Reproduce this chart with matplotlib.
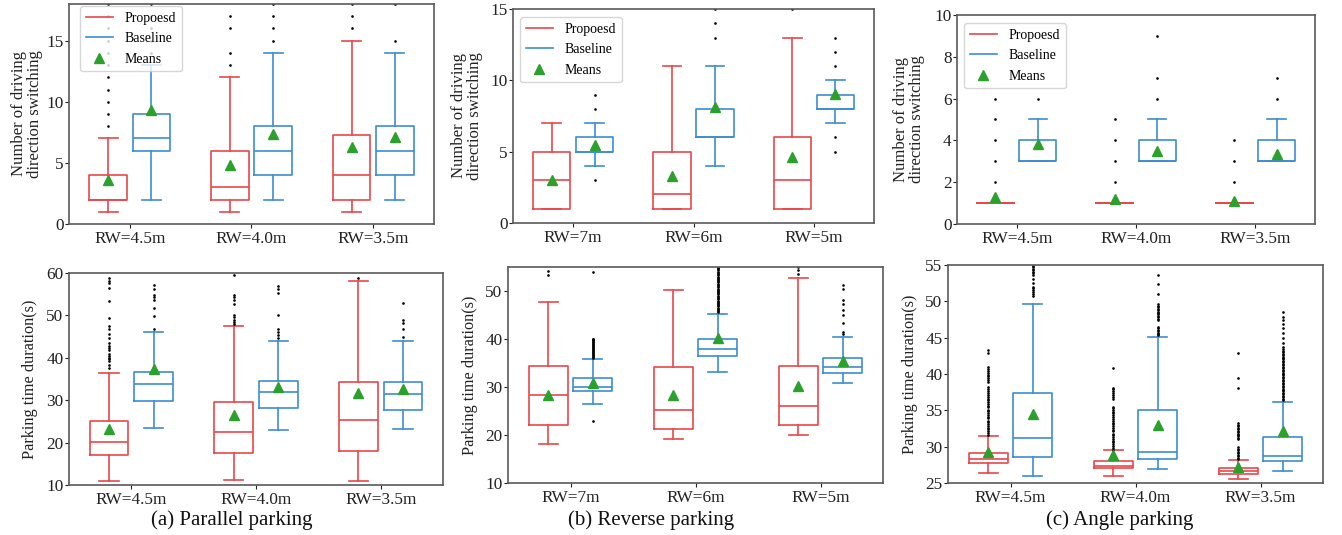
import matplotlib
matplotlib.use("Agg")
import matplotlib.pyplot as plt
from matplotlib.lines import Line2D

plt.rcParams['font.family'] = ['Liberation Serif', 'DejaVu Serif']
plt.rcParams['mathtext.fontset'] = 'stix'

# ---------------- data (five-number summaries: [whislo, q1, med, q3, whishi]) ----------------
cats_parallel = ["RW=4.5m", "RW=4.0m", "RW=3.5m"]
cats_reverse = ["RW=7m", "RW=6m", "RW=5m"]
cats_angle = ["RW=4.5m", "RW=4.0m", "RW=3.5m"]

# (a) parallel parking - direction switching
par_sw_prop = [[1, 2, 2, 4, 7], [1, 2, 3, 6, 12], [1, 2, 4, 7.25, 15]]
par_sw_prop_mean = [3.6, 4.8, 6.3]
par_sw_prop_fliers = [[8, 9, 10, 11, 12, 13, 14, 15, 16, 17, 18], [13, 14, 16, 17], [16, 17, 18]]
par_sw_base = [[2, 6, 7, 9, 13], [2, 4, 6, 8, 14], [2, 4, 6, 8, 14]]
par_sw_base_mean = [9.3, 7.4, 7.1]
par_sw_base_fliers = [[14, 15, 16, 17, 18], [15, 16, 17, 18], [15, 18]]

# (b) reverse parking - direction switching
rev_sw_prop = [[1, 1, 3, 5, 7], [1, 1, 2, 5, 11], [1, 1, 3, 6, 13]]
rev_sw_prop_mean = [3.0, 3.3, 4.6]
rev_sw_prop_fliers = [[], [], [15]]
rev_sw_base = [[4, 5, 5, 6, 7], [4, 6, 6, 8, 11], [7, 8, 8, 9, 10]]
rev_sw_base_mean = [5.45, 8.1, 9.05]
rev_sw_base_fliers = [[3, 8, 9], [13, 14, 15], [5, 6, 11, 12, 13]]

# (c) angle parking - direction switching
ang_sw_prop = [[1, 1, 1, 1, 1], [1, 1, 1, 1, 1], [1, 1, 1, 1, 1]]
ang_sw_prop_mean = [1.27, 1.19, 1.1]
ang_sw_prop_fliers = [[2, 3, 4, 5, 6], [2, 3, 4, 5], [2, 3, 4]]
ang_sw_base = [[3, 3, 3, 4, 5], [3, 3, 3, 4, 5], [3, 3, 3, 4, 5]]
ang_sw_base_mean = [3.82, 3.51, 3.35]
ang_sw_base_fliers = [[6], [6, 7, 9], [6, 7]]

# (a) parallel parking - time
par_t_prop = [[11.0, 17.1, 20.2, 25.1, 36.3], [11.2, 17.6, 22.5, 29.5, 47.5], [11.0, 18.0, 25.3, 34.3, 58.1]]
par_t_prop_mean = [23.3, 26.5, 31.6]
par_t_prop_fliers = [
    [37.6, 38.4, 39.2, 39.6, 40.0, 40.4, 41.0, 41.9, 42.3, 42.7, 43.5, 44.7, 45.5,
     46.9, 47.4, 49.4, 53.3, 56.5, 57.6, 58.2, 58.8],
    [47.9, 48.4, 49.0, 49.6, 50.2, 52.7, 53.7, 54.3, 54.9, 59.6],
    [58.9]]
par_t_base = [[23.4, 29.9, 33.9, 36.6, 46.2], [23.0, 28.2, 31.9, 34.6, 44.0], [23.2, 27.6, 31.5, 34.3, 43.9]]
par_t_base_mean = [37.3, 33.2, 32.7]
par_t_base_fliers = [
    [46.9, 49.8, 51.7, 53.7, 54.3, 54.9, 56.3, 57.2],
    [44.6, 45.3, 46.0, 46.8, 50.2, 55.3, 56.2, 57.0],
    [45.0, 46.8, 48.2, 49.0, 53.0]]

# (b) reverse parking - time
rev_t_prop = [[18.2, 22.1, 28.3, 34.3, 47.7], [19.2, 21.3, 25.3, 34.1, 50.3], [20.1, 22.0, 26.1, 34.3, 52.8]]
rev_t_prop_mean = [28.4, 28.4, 30.2]
rev_t_prop_fliers = [[53.3, 54.1], [], [53.6, 54.3, 55.0]]
rev_t_base = [[26.4, 29.1, 30.1, 31.9, 35.9], [33.2, 36.4, 37.9, 39.9, 45.2], [30.8, 32.9, 34.1, 36.0, 40.5]]
rev_t_base_mean = [30.8, 40.3, 35.5]
rev_t_base_fliers = [
    [22.9, 36.1, 36.3, 36.5, 36.7, 36.9, 37.1, 37.3, 37.5, 37.7, 37.9, 38.1, 38.3, 38.5,
     38.7, 38.9, 39.1, 39.3, 39.5, 39.7, 39.9, 40.1, 54.0],
    [45.6, 45.8, 46.0, 46.3, 46.5, 46.8, 47.0, 47.3, 47.5, 47.8, 48.0, 48.3, 48.5, 48.8,
     49.0, 49.3, 49.5, 49.8, 50.0, 50.3, 50.5, 50.8, 51.0, 51.3, 51.5, 51.8, 52.0, 52.3,
     52.5, 52.8, 53.0, 53.3, 53.5, 53.8, 54.0, 54.3, 54.5, 54.8, 55.0],
    [41.05, 41.5, 43.3, 44.9, 46.1, 47.25, 48.1, 50.4, 51.2]]

# (c) angle parking - time
ang_t_prop = [[26.4, 27.7, 28.3, 29.1, 31.4], [25.9, 27.0, 27.4, 28.0, 29.5], [25.6, 26.3, 26.7, 27.1, 28.1]]
ang_t_prop_mean = [29.25, 28.9, 27.2]
ang_t_prop_fliers = [
    [31.6, 31.9, 32.1, 32.4, 32.6, 32.9, 33.1, 33.4, 33.6, 33.9, 34.1, 34.4, 34.6, 34.9,
     35.1, 35.4, 35.6, 35.9, 36.1, 36.4, 36.6, 36.9, 37.1, 37.4, 37.6, 37.9, 38.2, 38.9,
     39.2, 39.4, 39.7, 39.9, 40.2, 40.4, 40.7, 41.0, 42.9, 43.3],
    [29.6, 29.8, 30.1, 30.3, 30.6, 30.8, 31.1, 31.3, 31.6, 31.8, 32.1, 32.3, 32.6, 32.8,
     33.1, 33.3, 33.6, 33.8, 34.1, 34.3, 34.6, 34.8, 35.1, 35.3, 35.5, 36.6, 36.9, 37.1,
     37.4, 37.6, 37.9, 38.1, 40.8],
    [28.3, 28.5, 28.7, 28.9, 29.1, 29.3, 29.5, 29.7, 30.0, 31.0, 31.2, 31.4, 31.6, 31.8,
     32.0, 32.2, 32.4, 32.6, 32.8, 33.0, 33.3, 38.1, 39.5, 42.9]]
ang_t_base = [[25.9, 28.6, 31.2, 37.4, 49.6], [26.9, 28.3, 29.3, 35.0, 45.1], [26.7, 28.0, 28.7, 31.3, 36.2]]
ang_t_base_mean = [34.45, 32.95, 32.15]
ang_t_base_fliers = [
    [50.8, 51.0, 51.3, 51.5, 51.8, 52.0, 52.5, 53.1, 53.6, 53.9, 54.1, 54.3, 54.5, 54.7, 54.9, 55.1],
    [45.3, 45.5, 45.7, 45.9, 46.1, 46.3, 46.5, 47.4, 47.6, 47.8, 48.0, 48.2, 48.4, 48.6,
     48.8, 49.0, 49.2, 49.4, 49.7, 51.05, 52.4, 53.65],
    [36.4, 36.6, 36.8, 37.0, 37.2, 37.4, 37.6, 37.8, 38.0, 38.2, 38.4, 38.6, 38.8, 39.0,
     39.2, 39.4, 39.6, 39.8, 40.0, 40.2, 40.4, 40.6, 40.8, 41.0, 41.2, 41.4, 41.6, 41.8,
     42.0, 42.2, 42.4, 42.6, 42.8, 43.0, 43.2, 43.4, 43.7, 44.2, 44.9, 45.6, 46.3, 46.9,
     47.4, 47.9, 48.5]]

legend_labels = ["Propoesd", "Baseline", "Means"]
captions = ["(a) Parallel parking", "(b) Reverse parking", "(c) Angle parking"]

# ---------------- style ----------------
RED = '#e8474c'
BLUE = '#3d8dd0'
GREEN = '#2ca02c'
SPINE = '#5a5a5a'
TXT = '#222222'

W, H = 1342, 535
fig = plt.figure(figsize=(W / 100, H / 100), dpi=100)


def px_axes(l, r, t, b):
    ax = fig.add_axes([l / W, 1 - b / H, (r - l) / W, (b - t) / H])
    ax._px = (l, r, t, b)
    return ax


def stats_of(summ, means, fliers):
    out = []
    for s, m, f in zip(summ, means, fliers):
        out.append(dict(whislo=s[0], q1=s[1], med=s[2], q3=s[3], whishi=s[4], mean=m, fliers=f))
    return out


def draw(ax, cats, prop, base, ylim, yticks, ylabel, fs_lab, label_right_px, legend_px=None):
    offs = 0.178
    wid = 0.31
    for (summ, means, fliers), color, off in ((prop, RED, -offs), (base, BLUE, offs)):
        st = stats_of(summ, means, fliers)
        ax.bxp(st, positions=[i + off for i in range(len(cats))], widths=wid,
               showmeans=True, manage_ticks=False,
               boxprops=dict(color=color, linewidth=1.2),
               whiskerprops=dict(color=color, linewidth=1.2),
               capprops=dict(color=color, linewidth=1.2),
               medianprops=dict(color=color, linewidth=1.2),
               meanprops=dict(marker='^', markerfacecolor=GREEN, markeredgecolor=GREEN, markersize=7.5),
               flierprops=dict(marker='o', markerfacecolor='black', markeredgecolor='black',
                               markersize=1.9, markeredgewidth=0))
    l, r, t, b = ax._px
    ax.set_xlim(-0.5, 2.5)
    ax.set_xticks(range(len(cats)))
    ax.set_xticklabels(cats, fontsize=12.4)
    ax.set_ylim(*ylim)
    ax.set_yticks(yticks)
    ax.tick_params(axis='y', labelsize=12.4, colors=TXT, labelcolor=TXT, length=2.8, pad=1.2)
    ax.tick_params(axis='x', colors=TXT, labelcolor=TXT, length=2.8, pad=2.5)
    ax.set_ylabel(ylabel, fontsize=fs_lab, color=TXT, linespacing=1.0)
    ax.yaxis.set_label_coords((label_right_px - l) / (r - l), 0.5)
    for sp in ax.spines.values():
        sp.set_color(SPINE)
        sp.set_linewidth(1.2)
    if legend_px is not None:
        handles = [Line2D([], [], color=RED, lw=1.2),
                   Line2D([], [], color=BLUE, lw=1.2),
                   Line2D([], [], color=GREEN, marker='^', ls='none', markersize=7)]
        lx, ly = legend_px
        ax.legend(handles, legend_labels, loc='upper left', fontsize=10,
                  bbox_to_anchor=((lx - l) / (r - l), 1 - (ly - t) / (b - t)),
                  borderaxespad=0, handlelength=2.0, labelspacing=0.55)


lab_sw = "Number of driving\ndirection switching"
lab_t = "Parking time duration(s)"

ax1 = px_axes(69, 434, 4, 224)
draw(ax1, cats_parallel, (par_sw_prop, par_sw_prop_mean, par_sw_prop_fliers),
     (par_sw_base, par_sw_base_mean, par_sw_base_fliers), (0, 18), [0, 5, 10, 15], lab_sw, 12,
     43, (80, 6))
ax2 = px_axes(513, 874, 9, 223)
draw(ax2, cats_reverse, (rev_sw_prop, rev_sw_prop_mean, rev_sw_prop_fliers),
     (rev_sw_base, rev_sw_base_mean, rev_sw_base_fliers), (0, 15), [0, 5, 10, 15], lab_sw, 12,
     483, (520, 17))
ax3 = px_axes(957, 1315, 15, 224)
draw(ax3, cats_angle, (ang_sw_prop, ang_sw_prop_mean, ang_sw_prop_fliers),
     (ang_sw_base, ang_sw_base_mean, ang_sw_base_fliers), (0, 10), [0, 2, 4, 6, 8, 10], lab_sw, 12,
     925, (964, 23))

ax4 = px_axes(69, 443, 273, 485)
draw(ax4, cats_parallel, (par_t_prop, par_t_prop_mean, par_t_prop_fliers),
     (par_t_base, par_t_base_mean, par_t_base_fliers), (10, 60), [10, 20, 30, 40, 50, 60], lab_t, 11.7,
     38)
ax5 = px_axes(508, 883, 267, 483)
draw(ax5, cats_reverse, (rev_t_prop, rev_t_prop_mean, rev_t_prop_fliers),
     (rev_t_base, rev_t_base_mean, rev_t_base_fliers), (10, 55), [10, 20, 30, 40, 50], lab_t, 11.7,
     478)
ax6 = px_axes(948, 1323, 265, 483)
draw(ax6, cats_angle, (ang_t_prop, ang_t_prop_mean, ang_t_prop_fliers),
     (ang_t_base, ang_t_base_mean, ang_t_base_fliers), (25, 55), [25, 30, 35, 40, 45, 50, 55], lab_t, 11.7,
     918)

for cx, txt in zip([232, 651, 1120], captions):
    fig.text(cx / W, 1 - 520 / H, txt, ha='center', va='center', fontsize=15, color='#111111')

fig.savefig("out.png", dpi=100)
